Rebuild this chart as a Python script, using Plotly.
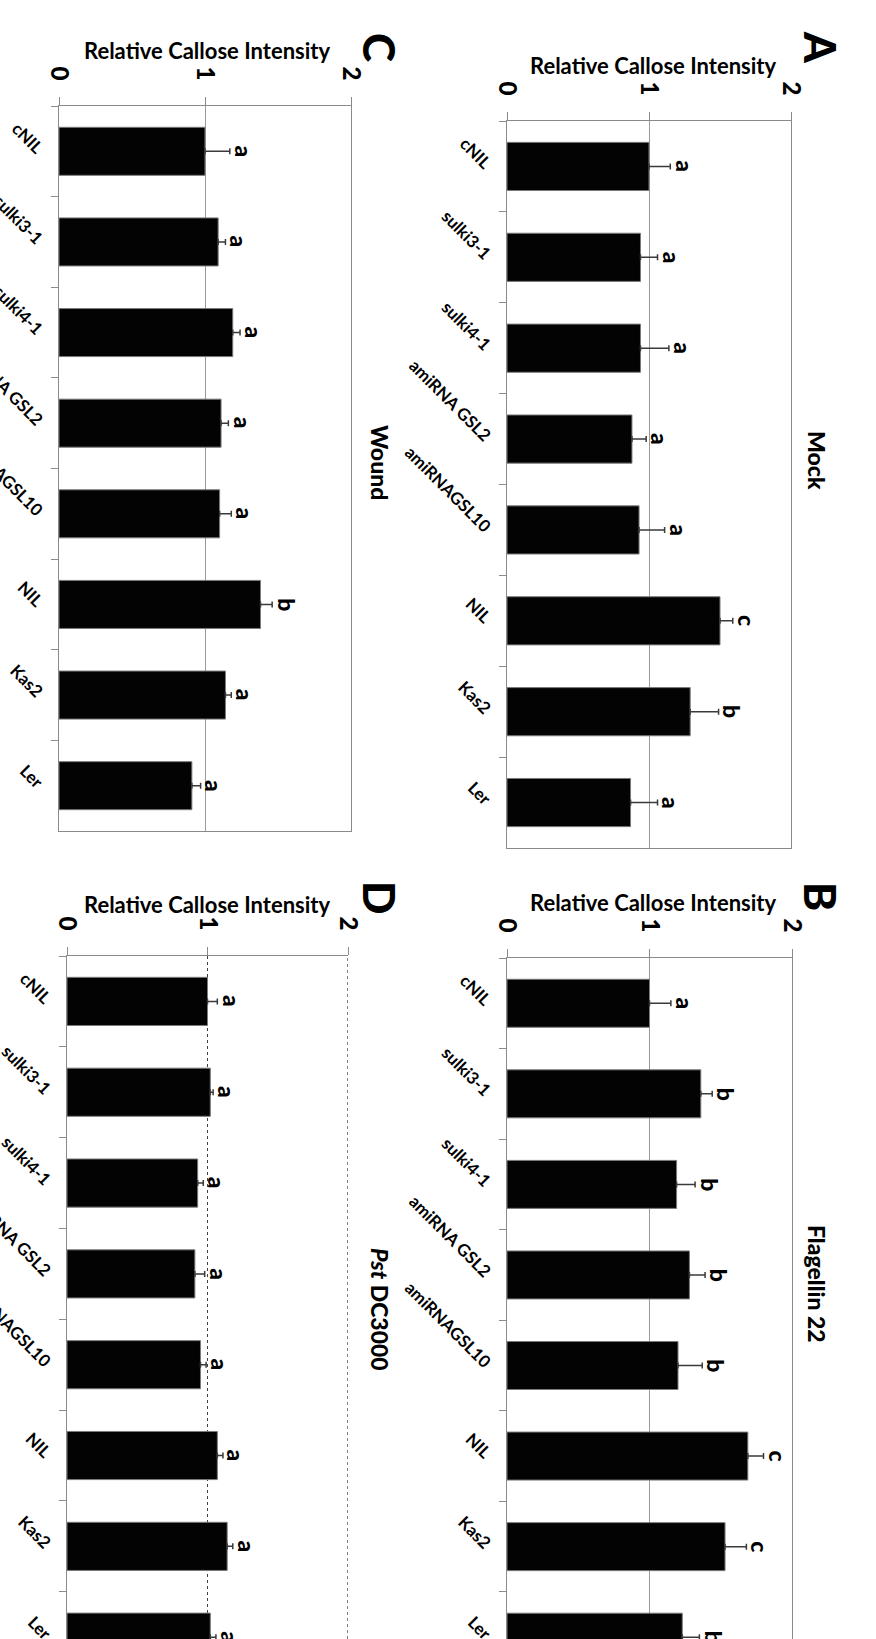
import plotly.graph_objects as go

W, H = 876, 1639

categories = ["cNIL", "sulki3-1", "sulki4-1", "amiRNA GSL2", "amiRNAGSL10", "NIL", "Kas2", "Ler"]
value_ticks = [0, 1, 2]

mock_mean = [1.00, 0.94, 0.94, 0.88, 0.93, 1.50, 1.29, 0.87]
mock_err = [0.15, 0.12, 0.20, 0.10, 0.18, 0.09, 0.20, 0.19]
mock_letters = ["a", "a", "a", "a", "a", "c", "b", "a"]

flg_mean = [1.00, 1.36, 1.19, 1.28, 1.20, 1.69, 1.53, 1.23]
flg_err = [0.15, 0.08, 0.13, 0.11, 0.17, 0.11, 0.15, 0.12]
flg_letters = ["a", "b", "b", "b", "b", "c", "c", "b"]

wound_mean = [1.00, 1.09, 1.19, 1.11, 1.10, 1.38, 1.14, 0.91]
wound_err = [0.17, 0.05, 0.05, 0.05, 0.08, 0.08, 0.04, 0.06]
wound_letters = ["a", "a", "a", "a", "a", "b", "a", "a"]

pst_mean = [1.00, 1.02, 0.93, 0.91, 0.95, 1.07, 1.14, 1.02]
pst_err = [0.07, 0.02, 0.04, 0.07, 0.04, 0.04, 0.04, 0.04]
pst_letters = ["a", "a", "a", "a", "a", "a", "a", "a"]

FONT = "Lato"
LINE = "#8a8a8a"


def px_x(x):
    return x / W


def px_y(y):
    return 1 - y / H


panels = [
    dict(mean=mock_mean, err=mock_err, letters=mock_letters,
         xd=(507, 791), yd=(121, 848), yr=[7.5, -0.5], dotted=False, closed=True,
         tag="A", tag_pos=(821, 47), title="Mock", title_pos=(817, 460), ytitle_pos=(653, 66)),
    dict(mean=flg_mean, err=flg_err, letters=flg_letters,
         xd=(507, 792), yd=(958, H), yr=[7.02, -0.5], dotted=False, closed=False,
         tag="B", tag_pos=(821, 896), title="Flagellin 22", title_pos=(817, 1284), ytitle_pos=(653, 902)),
    dict(mean=wound_mean, err=wound_err, letters=wound_letters,
         xd=(59, 351), yd=(106, 831), yr=[7.5, -0.5], dotted=False, closed=True,
         tag="C", tag_pos=(380, 47), title="Wound", title_pos=(380, 462), ytitle_pos=(207, 51)),
    dict(mean=pst_mean, err=pst_err, letters=pst_letters,
         xd=(67, 348), yd=(956, H), yr=[7.02, -0.5], dotted=True, closed=False,
         tag="D", tag_pos=(380, 897), title="<i>Pst</i> DC3000", title_pos=(380, 1309), ytitle_pos=(207, 905)),
]

fig = go.Figure()
annotations = []

for i, p in enumerate(panels, start=1):
    xa = "x" if i == 1 else f"x{i}"
    ya = "y" if i == 1 else f"y{i}"
    fig.add_trace(go.Bar(
        x=p["mean"], y=categories, orientation="h", width=0.53,
        marker=dict(color="#030303", line=dict(color="#7a7a7a", width=1)),
        error_x=dict(type="data", array=p["err"], arrayminus=[0] * len(p["err"]),
                     symmetric=False, color="#3a3a3a", thickness=1.5, width=3),
        xaxis=xa, yaxis=ya, showlegend=False,
    ))

    xkey = "xaxis" if i == 1 else f"xaxis{i}"
    ykey = "yaxis" if i == 1 else f"yaxis{i}"
    fig.layout[xkey] = dict(
        domain=[px_x(p["xd"][0]), px_x(p["xd"][1])], anchor=ya, side="top",
        range=[0, 2], tickvals=value_ticks, ticktext=[str(v) for v in value_ticks],
        tickangle=90, ticks="outside", ticklen=8, tickcolor=LINE, ticklabelstandoff=8,
        tickfont=dict(family=FONT, size=24, color="black", weight=900),
        showline=True, linecolor=LINE, linewidth=1.2, mirror=p["closed"],
        showgrid=True, gridcolor="#404040" if p["dotted"] else "#9a9a9a", gridwidth=1,
        griddash="dot" if p["dotted"] else "solid",
        zeroline=False, automargin=False, fixedrange=True,
    )
    fig.layout[ykey] = dict(
        domain=[px_y(p["yd"][1]), px_y(p["yd"][0])], anchor=xa,
        type="category", categoryorder="array", categoryarray=categories,
        range=p["yr"], ticks="outside", tickson="boundaries", ticklen=7, tickcolor=LINE,
        ticklabelstandoff=13, tickangle=45,
        tickfont=dict(family=FONT, size=17, color="black", weight="bold"),
        showline=True, linecolor=LINE, linewidth=1.2, mirror=not p["dotted"],
        showgrid=False, zeroline=False, automargin=False, fixedrange=True,
    )

    # significance letters just past the error bar
    for c, m, e, L in zip(categories, p["mean"], p["err"], p["letters"]):
        annotations.append(dict(
            x=m + e, y=c, xref=xa, yref=ya, text=L, showarrow=False,
            xanchor="center", yanchor="middle", xshift=14, textangle=90,
            font=dict(family=FONT, size=23, color="black", weight=900),
        ))

    annotations.append(dict(
        x=px_x(p["ytitle_pos"][0]), y=px_y(p["ytitle_pos"][1]), xref="paper", yref="paper",
        text="Relative Callose Intensity", showarrow=False, xanchor="center", yanchor="middle",
        font=dict(family=FONT, size=22, color="black", weight="bold"),
    ))
    annotations.append(dict(
        x=px_x(p["title_pos"][0]), y=px_y(p["title_pos"][1]), xref="paper", yref="paper",
        text=p["title"], showarrow=False, xanchor="center", yanchor="middle", textangle=90,
        font=dict(family=FONT, size=23, color="black", weight=900),
    ))
    annotations.append(dict(
        x=px_x(p["tag_pos"][0]), y=px_y(p["tag_pos"][1]), xref="paper", yref="paper",
        text=p["tag"], showarrow=False, xanchor="center", yanchor="middle", textangle=90,
        font=dict(family=FONT, size=44, color="black", weight=900),
    ))

# dashed right border for the last panel
border_shapes = [dict(
    type="line", xref="x4", yref="paper", x0=2, x1=2,
    y0=0, y1=px_y(956), line=dict(color="#303030", width=1.2, dash="dot"),
)]

fig.update_layout(
    width=W, height=H, margin=dict(l=0, r=0, t=0, b=0),
    template="none", paper_bgcolor="white", plot_bgcolor="white",
    annotations=annotations, shapes=border_shapes, bargap=0.47,
)

fig.write_html("out.html")
